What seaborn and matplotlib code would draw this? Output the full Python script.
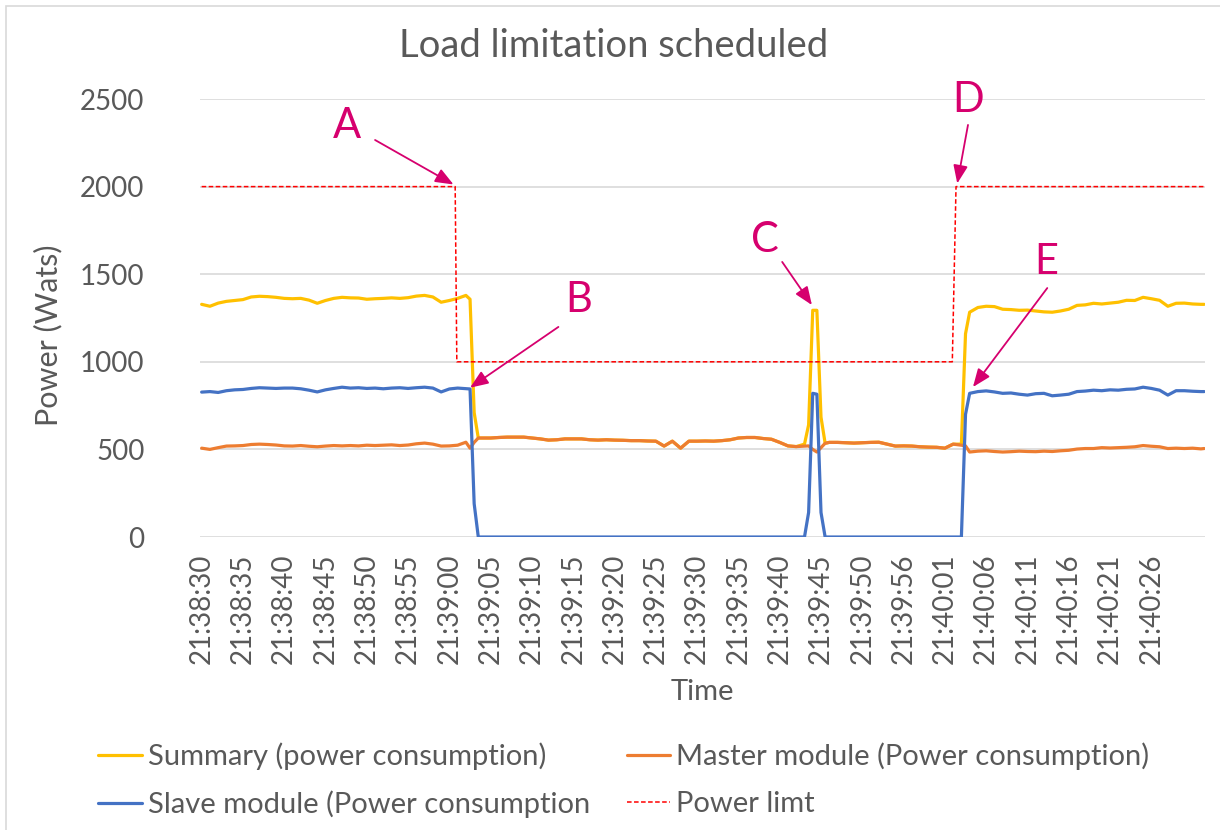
import numpy as np
import pandas as pd
import seaborn as sns
import matplotlib.pyplot as plt
from matplotlib.patches import Rectangle

# sample times (seconds from 21:38:30, axis category units)
t_sec = [0, 1, 2, 3, 4, 5, 6, 7, 8, 9, 10, 11, 12, 13, 14, 15, 16, 17, 18, 19, 20,
         21, 22, 23, 24, 25, 26, 27, 28, 29, 30, 31, 32, 32.5, 33, 33.5,
         34, 35, 36, 37, 38, 39, 40, 41, 42, 43, 44, 45, 46, 47, 48, 49, 50, 51, 52, 53,
         54, 55, 56, 57, 58, 59, 60, 61, 62, 63, 64, 65, 66, 67, 68, 69, 70, 71, 72, 73,
         73.5, 74, 74.5, 75, 75.5,
         76, 77, 78, 79, 80, 81, 82, 83, 84, 85, 86, 87, 88, 89, 90, 91, 92, 92.5,
         93, 94, 95, 96, 97, 98, 99, 100, 101, 102, 103, 104, 105, 106, 107, 108, 109, 110,
         111, 112, 113, 114, 115, 116, 117, 118, 119, 120, 121, 121.4]

summary = [1328, 1317, 1335, 1345, 1350, 1355, 1370, 1374, 1372, 1368, 1362, 1360, 1362, 1352,
           1334, 1350, 1362, 1368, 1365, 1364, 1357, 1360, 1362, 1365, 1362, 1366, 1375, 1379,
           1370, 1340, 1350, 1362, 1379, 1357, 710, 565,
           565, 565, 568, 570, 570, 570, 565, 560, 553, 555, 560, 560, 560, 555, 553, 555, 553,
           552, 550, 550, 548, 547, 519, 547, 507, 547, 547, 548, 547, 550, 555, 565, 568, 568,
           562, 558, 540, 520, 516, 530,
           640, 1294, 1294, 684, 535,
           540, 540, 538, 536, 538, 540, 541, 530, 519, 520, 519, 515, 513, 512, 507, 530, 530,
           1160,
           1283, 1310, 1317, 1315, 1300, 1298, 1294, 1295, 1290, 1285, 1283, 1290, 1300, 1322,
           1325, 1334, 1330, 1335, 1340, 1351, 1350, 1368, 1360, 1351, 1317, 1334, 1335, 1330,
           1328, 1328]

master = [507, 500, 510, 519, 520, 522, 528, 530, 528, 525, 520, 519, 522, 518, 515, 519, 522,
          520, 522, 520, 524, 522, 524, 526, 522, 525, 532, 536, 530, 519, 520, 524, 541,
          507, 540, 565,
          565, 565, 568, 570, 570, 570, 565, 560, 553, 555, 560, 560, 560, 555, 553, 555, 553,
          552, 550, 550, 548, 547, 519, 547, 507, 547, 547, 548, 547, 550, 555, 565, 568, 568,
          562, 558, 540, 520, 516, 519,
          520, 500, 485, 510, 535,
          540, 540, 538, 536, 538, 540, 541, 530, 519, 520, 519, 515, 513, 512, 507, 530, 524,
          520,
          485, 490, 492, 488, 485, 487, 490, 488, 487, 490, 488, 492, 495, 502, 505, 505, 510,
          508, 510, 512, 515, 522, 518, 515, 505, 507, 505, 507, 503, 505]

slave = [827, 830, 825, 835, 840, 842, 848, 852, 850, 848, 850, 850, 846, 838, 828, 840, 848,
         855, 850, 852, 848, 850, 846, 850, 852, 848, 852, 855, 850, 828, 845, 850, 847,
         845, 190, 0,
         0, 0, 0, 0, 0, 0, 0, 0, 0, 0, 0, 0, 0, 0, 0, 0, 0, 0, 0, 0,
         0, 0, 0, 0, 0, 0, 0, 0, 0, 0, 0, 0, 0, 0, 0, 0, 0, 0, 0, 0,
         140, 820, 815, 140, 0,
         0, 0, 0, 0, 0, 0, 0, 0, 0, 0, 0, 0, 0, 0, 0, 0, 0,
         700,
         820, 830, 834, 828, 820, 822, 815, 810, 818, 820, 806, 810, 815, 830, 833, 838, 835,
         840, 838, 843, 845, 855, 848, 838, 810, 835, 835, 832, 830, 830]

limit_t = [0, 30.7, 30.9, 90.9, 91.35, 121.4]
limit_w = [2000, 2000, 1000, 1000, 2000, 2000]

time_labels = ['21:38:30', '21:38:35', '21:38:40', '21:38:45', '21:38:50', '21:38:55',
               '21:39:00', '21:39:05', '21:39:10', '21:39:15', '21:39:20', '21:39:25',
               '21:39:30', '21:39:35', '21:39:40', '21:39:45', '21:39:50', '21:39:56',
               '21:40:01', '21:40:06', '21:40:11', '21:40:16', '21:40:21', '21:40:26']

names = ['Summary (power consumption)', 'Master module (Power consumption)',
         'Slave module (Power consumption']
colors = ['#FFC000', '#ED7D31', '#4472C4']

# annotation letters: (letter, text pos, arrow tail, arrow tip) in data units
notes = [('A', (17.6, 2346), (21.0, 2266), (30.5, 2012)),
         ('B', (45.6, 1353), (43.2, 1199), (32.5, 852)),
         ('C', (68.2, 1695), (70.3, 1570), (73.9, 1324)),
         ('D', (92.8, 2495), (92.8, 2352), (91.5, 2018)),
         ('E', (102.3, 1570), (102.4, 1421), (93.4, 856))]

df = pd.DataFrame({
    't': t_sec * 3,
    'power': summary + master + slave,
    'series': [names[0]] * len(t_sec) + [names[1]] * len(t_sec) + [names[2]] * len(t_sec),
})

sns.set_style('white')
plt.rcParams['font.family'] = ['Lato', 'DejaVu Sans']
grey = '#595959'
pink = '#D6006E'

fig = plt.figure(figsize=(12.2, 8.3), dpi=100)
ax = fig.add_axes([200 / 1220, 1 - 537 / 830, 1005 / 1220, 438 / 830])

sns.lineplot(data=df, x='t', y='power', hue='series', hue_order=names,
             palette=dict(zip(names, colors)), lw=2.3, estimator=None, sort=False,
             legend=False, ax=ax)
sns.lineplot(x=limit_t, y=limit_w, color='#FF0000', lw=1.1, estimator=None, ax=ax)
ax.lines[-1].set_linestyle((0, (3, 1.6)))

for letter, txt, tail, tip in notes:
    ax.text(txt[0], txt[1], letter, color=pink, fontsize=30, ha='center', va='center')
    ax.annotate('', xy=tip, xytext=tail,
                arrowprops=dict(arrowstyle='-|>,head_length=0.55,head_width=0.22',
                                color=pink, lw=1.3, mutation_scale=20,
                                shrinkA=0, shrinkB=0))

ax.set_xlim(-0.2, 121.5)
ax.set_ylim(0, 2500)
ax.set_yticks([0, 500, 1000, 1500, 2000, 2500])
ax.set_xticks(np.arange(0, 120, 5))
ax.set_xticklabels(time_labels, rotation=90)
ax.tick_params(axis='both', length=0, labelsize=20, colors=grey)
ax.tick_params(axis='y', pad=40)
ax.tick_params(axis='x', pad=12)
ax.yaxis.grid(True, color='#D9D9D9', lw=1.2)
ax.set_axisbelow(True)
sns.despine(ax=ax, left=True, bottom=True)

ax.set_xlabel('Time', fontsize=21, color=grey)
ax.xaxis.set_label_coords(0.5, -0.355)
ax.xaxis.label.set_va('center')
ax.set_ylabel('Power (Wats)', fontsize=22, color=grey)
ax.yaxis.set_label_coords(-0.151, 0.46)
ax.yaxis.label.set_va('center')
fig.text(614 / 1220, 1 - 46 / 830, 'Load limitation scheduled', fontsize=27.5,
         color=grey, ha='center', va='center')

lines = ax.get_lines()
handles = [lines[0], lines[2], lines[1], lines[3]]
labels = [names[0], names[2], names[1], 'Power limt']
fig.legend(handles, labels, ncol=2, loc='upper left', bbox_to_anchor=(72 / 1220, 1 - 716 / 830),
           frameon=False, fontsize=21, labelcolor=grey, handlelength=1.5,
           handletextpad=0.2, columnspacing=1.25, labelspacing=0.72)

fig.patches.append(Rectangle((6 / 1220, -0.1), 1.2, 1.1 - 6 / 830, transform=fig.transFigure,
                             fill=False, ec='#D9D9D9', lw=1.2))

fig.savefig('out.png', dpi=100)
